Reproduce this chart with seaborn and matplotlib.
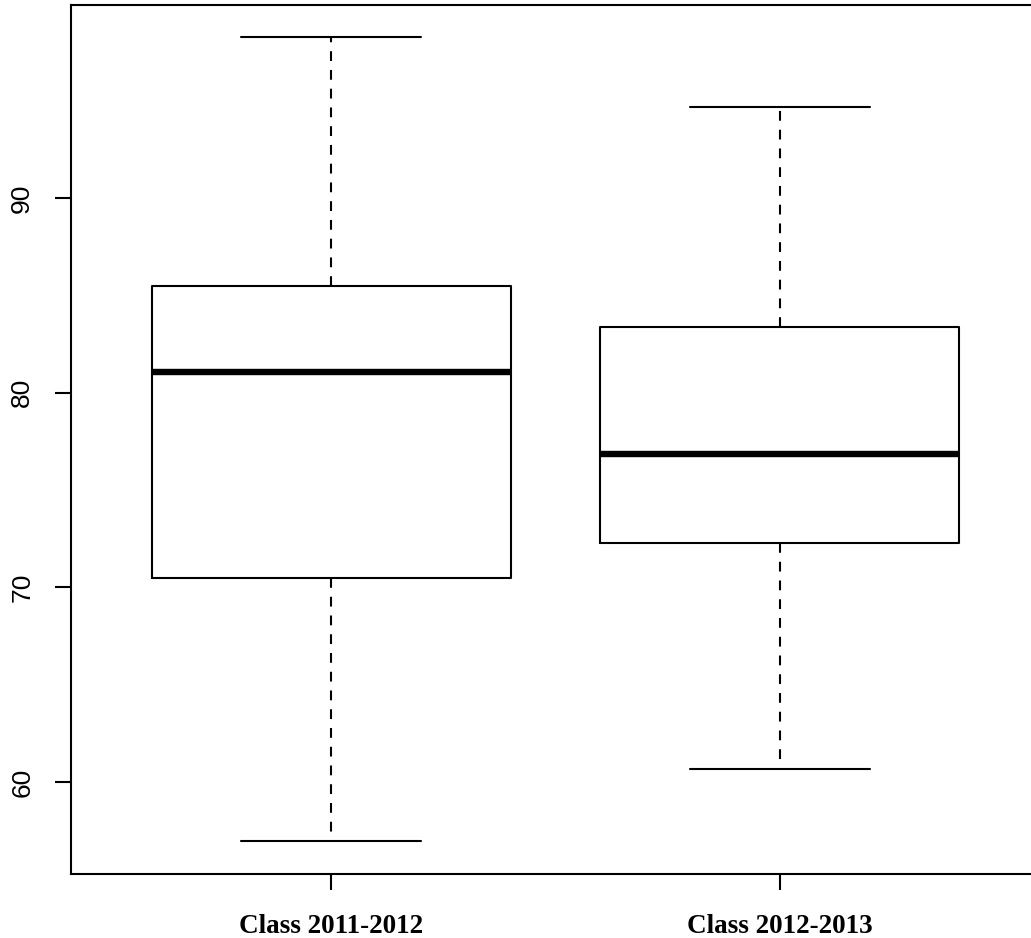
import numpy as np
import pandas as pd
import matplotlib
matplotlib.use("Agg")
import matplotlib.pyplot as plt
import seaborn as sns

# five-number summaries (min, Q1, median, Q3, max)
classes = ["Class 2011-2012", "Class 2012-2013"]
class_2011 = [56.97, 70.45, 81.08, 85.49, 98.26]
class_2012 = [60.67, 72.26, 76.87, 83.38, 94.67]
y_ticks = [60, 70, 80, 90]

df = pd.DataFrame({
    "cls": [classes[0]] * len(class_2011) + [classes[1]] * len(class_2012),
    "score": class_2011 + class_2012,
})

sns.set_style("white")
plt.rcParams["font.family"] = ["Liberation Sans", "DejaVu Sans"]

fig = plt.figure(figsize=(10.31, 9.38), dpi=100)
ax = fig.add_axes([71 / 1031, 64 / 938, (1040 - 71) / 1031, 869 / 938])

lw = 1.5
sns.boxplot(data=df, x="cls", y="score", ax=ax, fill=False, color="black",
            width=0.8, whis=(0, 100), linewidth=lw,
            medianprops=dict(linewidth=4.6, color="black"),
            whiskerprops=dict(linestyle=(0, (4.7, 4.3)), color="black"),
            capprops=dict(color="black"),
            boxprops=dict(color="black"))

ax.set_xlim(-0.58, 1.58)
ax.set_ylim(55.27, 99.91)
ax.set_yticks(y_ticks)
ax.set_xlabel("")
ax.set_ylabel("")

for side in ["left", "bottom", "top", "right"]:
    ax.spines[side].set_visible(True)
    ax.spines[side].set_color("black")
    ax.spines[side].set_linewidth(1.5)

ax.tick_params(axis="both", direction="out", length=11.5, width=1.5, color="black",
               labelcolor="black", left=True, bottom=True)
ax.tick_params(axis="y", labelsize=19, pad=15, labelrotation=90)
for lab in ax.get_yticklabels():
    lab.set_verticalalignment("center")
ax.tick_params(axis="x", pad=17)
for lab in ax.get_xticklabels():
    lab.set_fontfamily(["Liberation Serif", "DejaVu Serif"])
    lab.set_fontweight("bold")
    lab.set_fontsize(19.5)

fig.savefig("out.png", dpi=100, facecolor="white")
